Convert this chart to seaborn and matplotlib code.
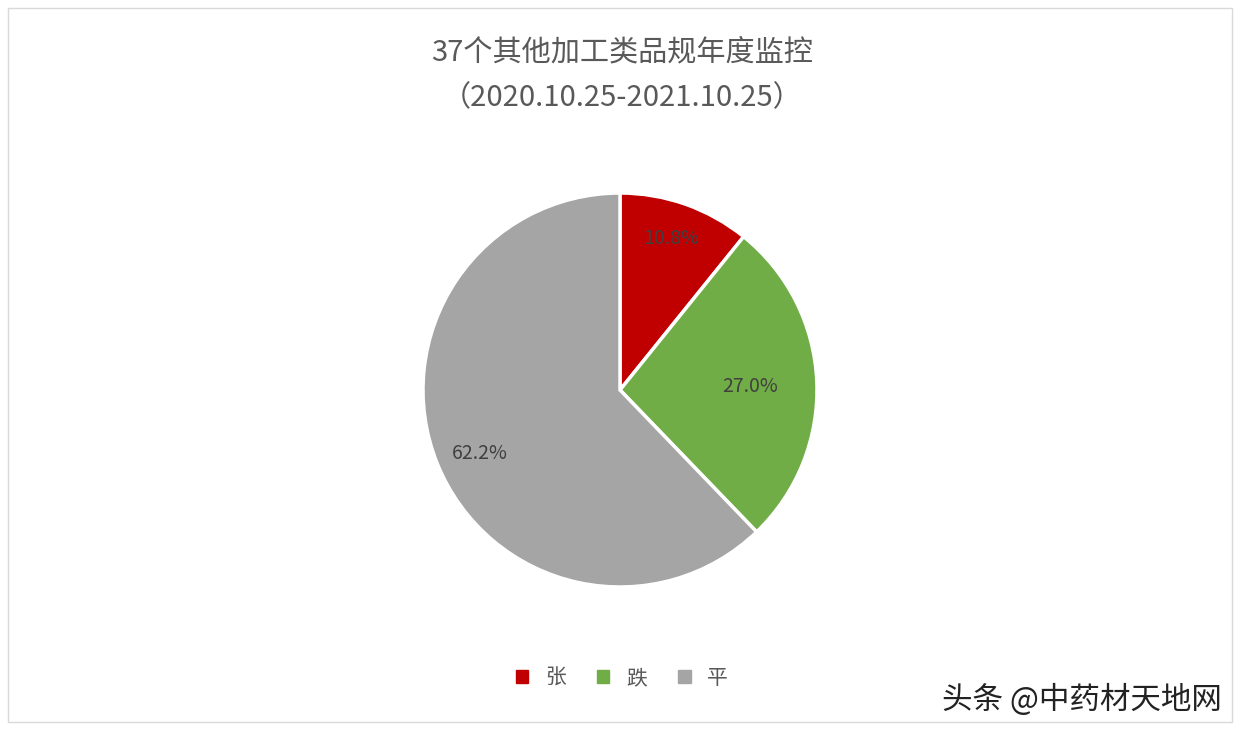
import matplotlib.pyplot as plt
import seaborn as sns
from matplotlib.patches import Rectangle

labels = ["张", "跌", "平"]
shares = [10.8, 27.0, 62.2]
colors = ["#c00000", "#70ad47", "#a5a5a5"]

title = "37个其他加工类品规年度监控\n（2020.10.25-2021.10.25）"
watermark = "头条 @中药材天地网"

sns.set_theme(style="white")
plt.rcParams["font.family"] = ["Noto Sans CJK SC", "DejaVu Sans"]

fig = plt.figure(figsize=(12.44, 7.38), dpi=100)
fig.patches.append(Rectangle((8 / 1244, 16 / 738), 1224 / 1244, 714 / 738,
                             transform=fig.transFigure, fill=False,
                             edgecolor="#d9d9d9", linewidth=1))

r = 197
ax = fig.add_axes([(620 - r) / 1244, (738 - 390 - r) / 738, 2 * r / 1244, 2 * r / 738])
wedges, texts = ax.pie(
    shares, colors=colors, startangle=90, counterclock=False,
    wedgeprops=dict(edgecolor="white", linewidth=2.5), radius=1.0,
)
ax.set_xlim(-1, 1)
ax.set_ylim(-1, 1)
ax.set_aspect("equal")
label_pos = [(0.26, 0.77), (0.66, 0.02), (-0.71, -0.32)]
for (x, y), s in zip(label_pos, shares):
    ax.text(x, y, f"{s:.1f}%", ha="center", va="center", fontsize=14, color="#404040")

fig.text(0.5, 1 - 52 / 738, title.split("\n")[0], ha="center", va="center",
         fontsize=21, color="#595959")
fig.text(0.5, 1 - 98 / 738, title.split("\n")[1], ha="center", va="center",
         fontsize=21, color="#595959")

handles = [Rectangle((0, 0), 1, 1, color=c) for c in colors]
fig.legend(handles, labels, loc="center", bbox_to_anchor=(0.5, 1 - 678 / 738),
           ncol=3, frameon=False, fontsize=15, handlelength=0.6, handleheight=0.6,
           columnspacing=1.5, labelcolor="#595959")

fig.text(1222 / 1244, 1 - 700 / 738, watermark, ha="right", va="center",
         fontsize=22, color="#222222")

fig.savefig("out.png", dpi=100)
